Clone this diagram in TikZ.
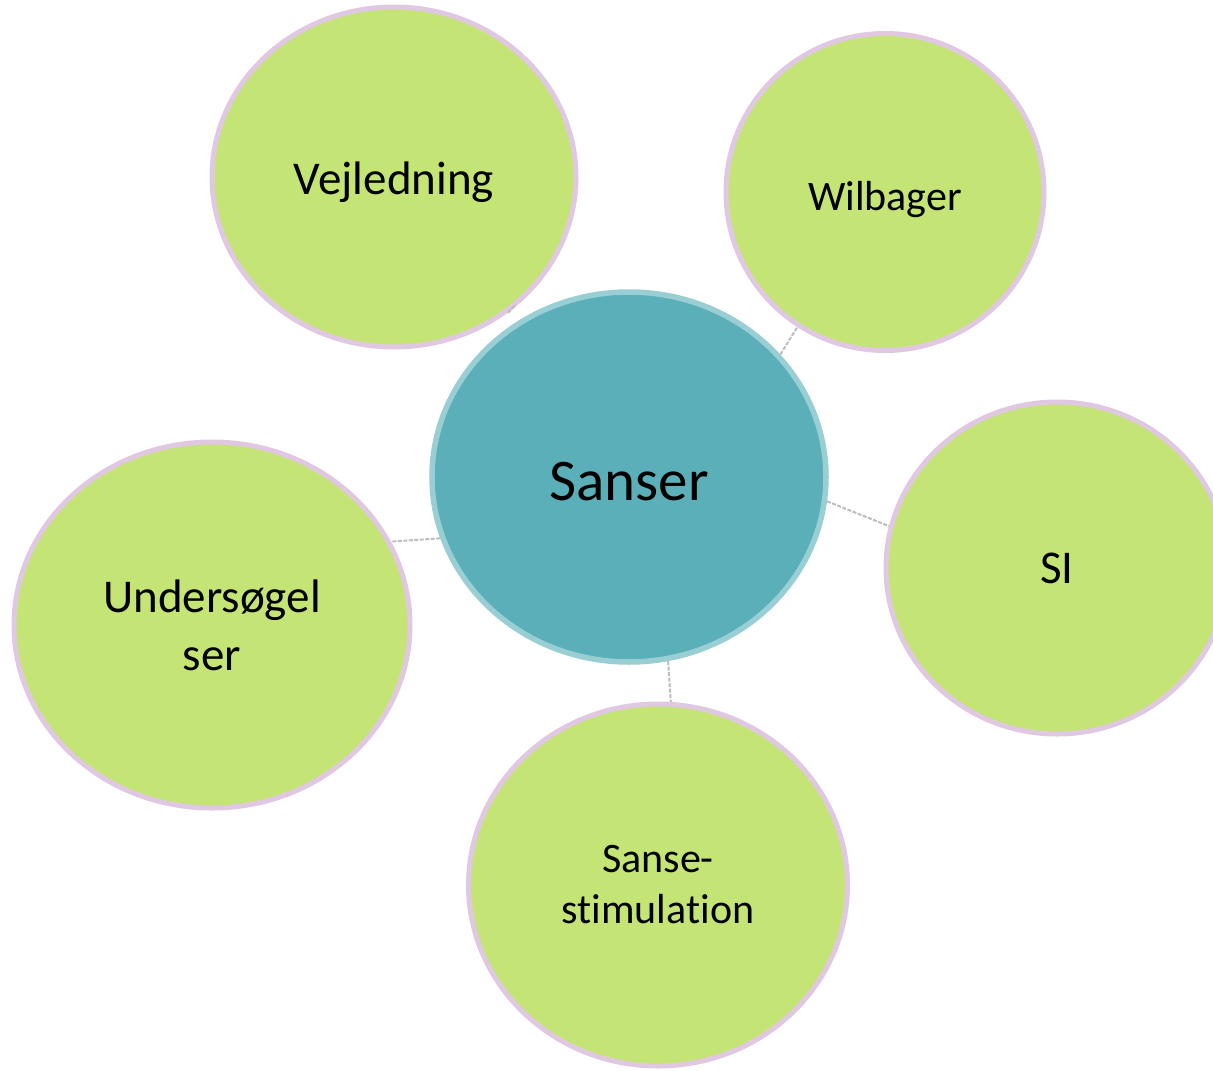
\documentclass[tikz,border=0pt]{standalone}
\usepackage{fontspec}
\setmainfont[Ligatures=NoCommon]{Carlito}
\usetikzlibrary{shapes.geometric}
\definecolor{leaf}{HTML}{C5E476}
\definecolor{lilac}{HTML}{E0C8E2}
\definecolor{teal1}{HTML}{5BAFB9}
\definecolor{teal2}{HTML}{98CED4}
\definecolor{conn}{HTML}{BDBDBD}
\begin{document}
\begin{tikzpicture}[x=1pt,y=-1pt,
  outer/.style={ellipse,fill=leaf,draw=lilac,line width=5pt,inner sep=0pt,align=center},
  hub/.style={ellipse,fill=teal1,draw=teal2,line width=5.5pt,inner sep=0pt,align=center},
  link/.style={draw=conn,line width=2pt,dash pattern=on 4pt off 1.5pt}]
\useasboundingbox (0,0) rectangle (1213,1071);
\clip (0,0) rectangle (1213,1071);
\node[outer,minimum width=364pt,minimum height=340pt,font=\fontsize{47}{56}\selectfont,text height=45pt,text depth=10pt] (vej) at (394,177) {Vejledning};
\node[outer,minimum width=318pt,minimum height=317pt,font=\fontsize{42}{50}\selectfont,text height=46pt,text depth=9pt] (wil) at (885,192) {Wilbager};
\node[outer,minimum width=342pt,minimum height=332pt,font=\fontsize{47}{56}\selectfont] (si) at (1057,568) {SI};
\node[outer,minimum width=396pt,minimum height=366pt,font=\fontsize{47}{58}\selectfont] (und) at (212,625) {Undersøgel\\ser};
\node[outer,minimum width=379pt,minimum height=362pt,font=\fontsize{42}{51}\selectfont] (sti) at (658,885) {Sanse-\\stimulation};
\draw[link] (vej.-50) -- ([shift={(8pt,8pt)}]vej.-50);
\node[hub,minimum width=394pt,minimum height=370pt,font=\fontsize{59}{70}\selectfont,text height=46pt,text depth=0pt] (san) at (629,477) {Sanser};
\draw[link] (san.39) -- (wil.-123);
\draw[link] (san.-7) -- (si.166);
\draw[link] (san.-162) -- (und.25);
\draw[link] (san.-78.5) -- (sti.86.5);
\end{tikzpicture}
\end{document}
